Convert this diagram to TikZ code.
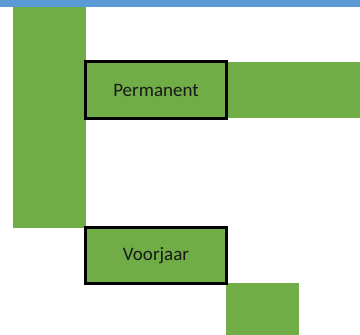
\documentclass[tikz,border=0pt]{standalone}
\usepackage{fontspec}
\setmainfont{Carlito}
\definecolor{grn}{HTML}{70AD47}
\definecolor{blu}{HTML}{5B9BD5}
\tikzset{
  bar/.style={fill=grn, draw=none},
  labelbox/.style={draw=black, line width=3pt, fill=grn, inner sep=0pt,
    minimum width=141pt, font=\fontsize{19}{23}\selectfont, text=black!90}
}
\begin{document}
\begin{tikzpicture}[x=1pt,y=-1pt]
\useasboundingbox (0,0) rectangle (360,335);
\fill[blu] (0,0) rectangle (360,7);
\fill[bar] (13,7) rectangle (86,228);
\fill[bar] (220,62) rectangle (360,118);
\fill[bar] (226,283) rectangle (299,335);
\node[labelbox, minimum height=57pt] (perm) at (156,90) {Permanent};
\node[labelbox, minimum height=56pt] (voor) at (156,255.5) {Voorjaar};
\end{tikzpicture}
\end{document}
